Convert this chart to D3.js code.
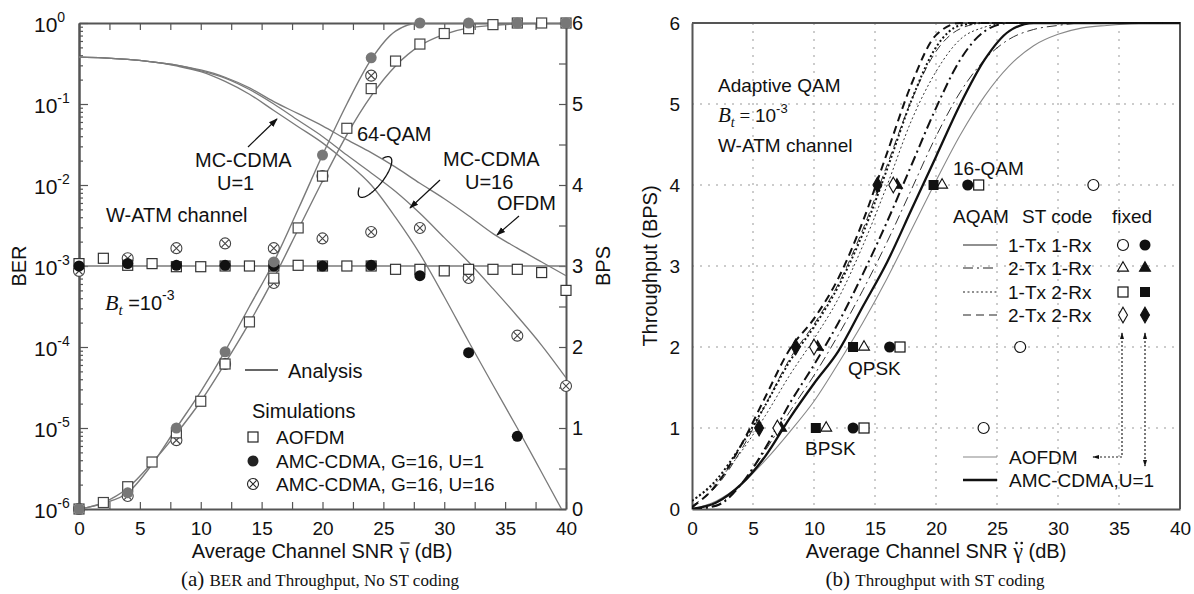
<!DOCTYPE html>
<html>
<head>
<meta charset="utf-8">
<script src="https://cdn.jsdelivr.net/npm/d3@7"></script>
<style>
  body { margin: 0; background: #fff; }
  svg { font-family: "Liberation Sans", Arial, sans-serif; }
</style>
</head>
<body>
<svg width="1194" height="594"></svg>
<script>
// ---------- data: panel (a) ----------
const snr = [0,2,4,6,8,10,12,14,16,18,20,22,24,26,28,30,32,34,36,38,40];
const snr4 = [0,4,8,12,16,20,24,28,32,36,40];

// fixed 64-QAM BER, analysis
const berMcU1  = [0.38,0.372,0.355,0.331,0.295,0.251,0.19,0.132,0.0832,0.0525,0.0331,0.019,0.01,0.00398,0.00141,4.17e-4,1.17e-4,3.39e-5,1e-5,2.82e-6,7.9e-7];
const berMcU16 = [0.38,0.372,0.355,0.331,0.302,0.257,0.209,0.151,0.1,0.063,0.0398,0.0234,0.0141,0.00832,0.00447,0.00224,0.00112,5.25e-4,2.4e-4,1.05e-4,4.17e-5];
const berOfdm  = [0.38,0.372,0.355,0.331,0.302,0.263,0.214,0.158,0.107,0.0759,0.0537,0.0363,0.0251,0.0166,0.0105,0.00676,0.00417,0.00251,0.00166,0.00112,7.6e-4];
const berTarget = 1e-3;

// adaptive throughput, analysis
const bpsMcU1  = [0,0.07,0.2,0.55,1.0,1.45,1.95,2.5,3.05,3.7,4.37,5.0,5.55,5.9,6,6,6,6,6,6,6];
const bpsAofdm = [0,0.08,0.26,0.57,0.93,1.33,1.8,2.3,2.85,3.45,4.05,4.62,5.1,5.47,5.72,5.86,5.94,5.97,5.99,6,6];

// simulations
const simBerAofdm = [1.07e-3,1.245e-3,1.02e-3,1.07e-3,0.98e-3,0.98e-3,1e-3,1e-3,1e-3,1.02e-3,1e-3,1e-3,1e-3,0.91e-3,0.91e-3,0.87e-3,0.91e-3,0.91e-3,0.91e-3,0.83e-3,0.5e-3];
const simBerMcU1  = [1e-3,1.07e-3,1.02e-3,1.02e-3,1e-3,1e-3,1.02e-3,7.6e-4,8.5e-5,7.9e-6];
const simBerMcU16 = [8.7e-4,1.245e-3,1.66e-3,1.9e-3,1.66e-3,2.19e-3,2.63e-3,2.95e-3,7.1e-4,1.38e-4,3.3e-5];
const simBpsAofdm = [0,0.08,0.275,0.58,0.94,1.33,1.79,2.31,2.85,3.47,4.11,4.7,5.19,5.53,5.74,5.87,5.93,5.98,6,6,6];
const simBpsMcU1  = [0,0.2,1.0,1.94,3.05,4.37,5.57,6,6,6,6];
const simBpsMcU16 = [0,0.16,0.85,1.79,2.79,4.11,5.35];

// ---------- data: panel (b) ----------
const tMc11   = [0,0.08,0.3,0.65,1.12,1.55,1.95,2.5,3.05,3.7,4.35,5.0,5.55,5.9,6,6,6,6,6,6,6];
const tOfdm11 = [0,0.1,0.3,0.6,0.95,1.33,1.8,2.3,2.85,3.45,4.05,4.62,5.1,5.47,5.72,5.86,5.94,5.97,5.99,6,6];
const tMc21   = [0,0.04,0.3,0.75,1.3,1.78,2.3,2.9,3.55,4.25,4.95,5.55,5.9,6,6,6,6,6,6,6,6];
const tOfdm21 = [0,0.05,0.3,0.72,1.2,1.65,2.15,2.7,3.3,3.95,4.6,5.15,5.55,5.8,5.92,5.97,6,6,6,6,6];
const tMc12   = [0.1,0.36,0.78,1.28,1.82,2.25,2.75,3.4,4.2,5.05,5.7,5.97,6,6,6,6,6,6,6,6,6];
const tOfdm12 = [0.1,0.33,0.7,1.15,1.65,2.1,2.6,3.25,4.0,4.8,5.4,5.8,5.95,6,6,6,6,6,6,6,6];
const tMc22   = [0.02,0.3,0.78,1.38,1.97,2.35,2.85,3.55,4.4,5.25,5.85,6,6,6,6,6,6,6,6,6,6];
const tOfdm22 = [0.04,0.28,0.72,1.28,1.85,2.28,2.78,3.45,4.25,5.05,5.65,5.93,6,6,6,6,6,6,6,6,6];

// fixed-mode operating points (SNR needed) for BPSK, QPSK, 16-QAM
const fixedBps   = [1, 2, 4];
const fixOfdm11  = [23.9, 26.9, 32.9];
const fixMc11    = [13.2, 16.2, 22.6];
const fixOfdm21  = [11.0, 14.1, 20.5];
const fixMc21    = [7.3, 10.3, 16.8];
const fixOfdm12  = [14.1, 17.05, 23.5];
const fixMc12    = [10.15, 13.2, 19.8];
const fixOfdm22  = [7.0, 10.0, 16.5];
const fixMc22    = [5.5, 8.5, 15.2];

// ---------- setup ----------
const svg = d3.select("svg");
const FONT = "Liberation Sans, Arial, sans-serif";
const axisCol = "#555";

const defs = svg.append("defs");
defs.append("marker").attr("id", "arr").attr("viewBox", "0 0 10 10")
    .attr("refX", 9).attr("refY", 5).attr("markerWidth", 9).attr("markerHeight", 9)
    .attr("markerUnits", "userSpaceOnUse").attr("orient", "auto-start-reverse")
  .append("path").attr("d", "M0,1.5L10,5L0,8.5z").attr("fill", "#111");
defs.append("marker").attr("id", "arrs").attr("viewBox", "0 0 10 10")
    .attr("refX", 9).attr("refY", 5).attr("markerWidth", 7).attr("markerHeight", 7)
    .attr("markerUnits", "userSpaceOnUse").attr("orient", "auto-start-reverse")
  .append("path").attr("d", "M0,2L10,5L0,8z").attr("fill", "#111");
defs.append("clipPath").attr("id", "clipL").append("rect")
    .attr("x", 79).attr("y", 23).attr("width", 487).attr("height", 486);
defs.append("clipPath").attr("id", "clipR").append("rect")
    .attr("x", 692).attr("y", 22).attr("width", 488).attr("height", 487);

function marker(g, kind, cx, cy, col) {
  col = col || "#222";
  const m = g.append("g").attr("transform", "translate(" + cx + "," + cy + ")");
  if (kind === "sq")      m.append("rect").attr("x", -5).attr("y", -5).attr("width", 10).attr("height", 10).attr("fill", "#fff").attr("stroke", col).attr("stroke-width", 1.2);
  if (kind === "sqF")     m.append("rect").attr("x", -5).attr("y", -5).attr("width", 10).attr("height", 10).attr("fill", col);
  if (kind === "dot")     m.append("circle").attr("r", 5.5).attr("fill", col);
  if (kind === "circ")    m.append("circle").attr("r", 5.5).attr("fill", "#fff").attr("stroke", col).attr("stroke-width", 1.2);
  if (kind === "otimes") {
    m.append("circle").attr("r", 5.5).attr("fill", "#fff").attr("stroke", col).attr("stroke-width", 1.1);
    m.append("path").attr("d", "M-3.6,-3.6L3.6,3.6M-3.6,3.6L3.6,-3.6").attr("stroke", col).attr("stroke-width", 1.1);
  }
  if (kind === "tri" || kind === "triF")
    m.append("path").attr("d", d3.symbol(d3.symbolTriangle, 52)())
      .attr("fill", kind === "triF" ? col : "#fff").attr("stroke", col).attr("stroke-width", 1.1);
  if (kind === "dia" || kind === "diaF")
    m.append("path").attr("d", d3.symbol(d3.symbolDiamond, 70)())
      .attr("fill", kind === "diaF" ? col : "#fff").attr("stroke", col).attr("stroke-width", 1.1);
}

function styleAxis(g, size) {
  g.attr("font-size", size).attr("font-family", FONT);
  g.select(".domain").attr("stroke", axisCol).attr("stroke-width", 2);
  g.selectAll(".tick line").attr("stroke", axisCol).attr("stroke-width", 1.2);
  g.selectAll(".tick text").attr("fill", "#111");
}

// put a bar (or two dots) over the gamma of an axis title
function accentGamma(textSel, idx, dots) {
  const e = textSel.node().getExtentOfChar(idx);
  const base = +textSel.attr("y");
  const cx = e.x + e.width / 2 + 1;
  if (dots) {
    [-2.6, 2.6].forEach(dx => svg.append("circle").attr("cx", cx + dx).attr("cy", base - 15).attr("r", 1.3).attr("fill", "#111"));
  } else {
    svg.append("line").attr("x1", cx - 4.5).attr("x2", cx + 4.5).attr("y1", base - 15).attr("y2", base - 15)
      .attr("stroke", "#111").attr("stroke-width", 1.3);
  }
}

// =================== panel (a) ===================
const xL = d3.scaleLinear().domain([0, 40]).range([79, 566]);
const yBer = d3.scaleLog().domain([1e-6, 1]).range([509, 23]);
const yBps = d3.scaleLinear().domain([0, 6]).range([509, 23]);

const ax = svg.append("g");
styleAxis(ax.append("g").attr("transform", "translate(0,509)")
  .call(d3.axisBottom(xL).tickValues(d3.range(0, 40.1, 2.5)).tickSizeInner(-7).tickSizeOuter(0)
    .tickPadding(12.5).tickFormat(d => d % 5 === 0 ? d : "")), 19);
styleAxis(ax.append("g").attr("transform", "translate(0,23)")
  .call(d3.axisTop(xL).tickValues(d3.range(0, 40.1, 2.5)).tickSizeInner(-7).tickSizeOuter(0).tickFormat("")), 19);

const decades = [1e-6, 1e-5, 1e-4, 1e-3, 1e-2, 1e-1, 1];
const minors = [];
decades.slice(0, 6).forEach(p => { for (let k = 2; k <= 9; k++) minors.push(p * k); });
styleAxis(ax.append("g").attr("transform", "translate(79,0)")
  .call(d3.axisLeft(yBer).tickValues(minors).tickSizeInner(-4).tickSizeOuter(0).tickFormat("")), 20);
const gBer = ax.append("g").attr("transform", "translate(79,0)")
  .call(d3.axisLeft(yBer).tickValues(decades).tickSizeInner(-9).tickSizeOuter(0).tickFormat(""));
styleAxis(gBer, 21);
gBer.selectAll(".tick text").each(function (d) {
  const t = d3.select(this).attr("x", -45).attr("dy", null).attr("y", 8).attr("text-anchor", "start");
  t.text("10");
  t.append("tspan").attr("dy", -10).attr("font-size", 14).text(Math.round(Math.log10(d)));
});
styleAxis(ax.append("g").attr("transform", "translate(566,0)")
  .call(d3.axisRight(yBps).tickValues(d3.range(0, 6.01, 0.5)).tickSizeInner(-7).tickSizeOuter(0)
    .tickPadding(6).tickFormat(d => Number.isInteger(d) ? d : "")), 20);

// curves
const pl = svg.append("g").attr("clip-path", "url(#clipL)");
const lineL = (xs, ys, y) => d3.line().x((d, i) => xL(xs[i])).y(d => y(d)).curve(d3.curveMonotoneX)(ys);
const grayLine = "#7a7a7a";
[berOfdm, berMcU16, berMcU1].forEach(a =>
  pl.append("path").attr("d", lineL(snr, a, yBer)).attr("fill", "none").attr("stroke", grayLine).attr("stroke-width", 1.3));
pl.append("path").attr("d", lineL([0, 40], [berTarget, berTarget], yBer)).attr("fill", "none").attr("stroke", grayLine).attr("stroke-width", 1.3);
[bpsMcU1, bpsAofdm].forEach(a =>
  pl.append("path").attr("d", lineL(snr, a, yBps)).attr("fill", "none").attr("stroke", grayLine).attr("stroke-width", 1.4));

// markers
const mk = svg.append("g");
simBerMcU16.forEach((v, i) => marker(mk, "otimes", xL(snr4[i]), yBer(v), "#444"));
simBpsMcU16.forEach((v, i) => marker(mk, "otimes", xL(snr4[i]), yBps(v), "#444"));
simBerAofdm.forEach((v, i) => marker(mk, "sq", xL(snr[i]), yBer(v), "#333"));
simBpsAofdm.forEach((v, i) => marker(mk, "sq", xL(snr[i]), yBps(v), "#444"));
simBerMcU1.forEach((v, i) => marker(mk, "dot", xL(snr4[i]), yBer(v), "#111"));
simBpsMcU1.forEach((v, i) => marker(mk, "dot", xL(snr4[i]), yBps(v), "#777"));

// annotations
const ta = svg.append("g").attr("font-size", 20).attr("fill", "#111");
ta.append("text").attr("x", 195).attr("y", 167).text("MC-CDMA");
ta.append("text").attr("x", 217).attr("y", 190).text("U=1");
ta.append("text").attr("x", 106).attr("y", 222).text("W-ATM channel");
ta.append("text").attr("x", 357).attr("y", 141).text("64-QAM");
ta.append("text").attr("x", 443).attr("y", 166).text("MC-CDMA");
ta.append("text").attr("x", 465).attr("y", 189).text("U=16");
ta.append("text").attr("x", 497).attr("y", 210).text("OFDM");
const bt = ta.append("text").attr("x", 105).attr("y", 310);
bt.append("tspan").attr("font-family", "Liberation Serif, serif").attr("font-style", "italic").attr("font-size", 22).text("B");
bt.append("tspan").attr("font-family", "Liberation Serif, serif").attr("font-style", "italic").attr("font-size", 15).attr("dy", 5).text("t");
bt.append("tspan").attr("dy", -5).text(" =10");
bt.append("tspan").attr("dy", -10).attr("font-size", 14).text("-3");

[[248, 147, 277, 119], [440, 180, 410, 208], [519, 216, 497, 235]].forEach(a =>
  svg.append("line").attr("x1", a[0]).attr("y1", a[1]).attr("x2", a[2]).attr("y2", a[3])
    .attr("stroke", "#111").attr("stroke-width", 1.2).attr("marker-end", "url(#arr)"));

// 64-QAM ellipse (open on the upper-left)
const ell = d3.range(-40, 226, 3).map(t => {
  const r = t * Math.PI / 180;
  return [25 * Math.cos(r), 8.5 * Math.sin(r)];
});
svg.append("path").attr("transform", "translate(375,177) rotate(-52)")
  .attr("d", d3.line()(ell)).attr("fill", "none").attr("stroke", "#111").attr("stroke-width", 1.3);

// legend (a)
svg.append("line").attr("x1", 245).attr("x2", 278).attr("y1", 370).attr("y2", 370).attr("stroke", "#333").attr("stroke-width", 1.3);
ta.append("text").attr("x", 288).attr("y", 378).text("Analysis");
ta.append("text").attr("x", 252).attr("y", 418).text("Simulations");
const legA = [["sq", "AOFDM", 437], ["dot", "AMC-CDMA, G=16, U=1", 461], ["otimes", "AMC-CDMA, G=16, U=16", 484]];
legA.forEach(r => {
  marker(svg, r[0], 253, r[2], "#222");
  ta.append("text").attr("x", 276).attr("y", r[2] + 7).attr("font-size", 19).text(r[1]);
});

// axis titles (a)
ta.append("text").attr("transform", "translate(26,266) rotate(-90)").attr("text-anchor", "middle").text("BER");
ta.append("text").attr("transform", "translate(610,266) rotate(-90)").attr("text-anchor", "middle").text("BPS");
const xtA = ta.append("text").attr("x", 322).attr("y", 558).attr("text-anchor", "middle");
xtA.append("tspan").text("Average Channel SNR ");
xtA.append("tspan").attr("font-family", "Liberation Serif, serif").attr("font-size", 22).text("\u03B3");
xtA.append("tspan").text(" (dB)");
accentGamma(xtA, 20, false);

// =================== panel (b) ===================
const xR = d3.scaleLinear().domain([0, 40]).range([692, 1180]);
const yR = d3.scaleLinear().domain([0, 6]).range([509, 23]);

const grid = svg.append("g").attr("stroke", "#999").attr("stroke-width", 1).attr("stroke-dasharray", "2,6");
d3.range(5, 40, 5).forEach(v => grid.append("line").attr("x1", xR(v)).attr("x2", xR(v)).attr("y1", 23).attr("y2", 509));
d3.range(1, 6, 1).forEach(v => grid.append("line").attr("y1", yR(v)).attr("y2", yR(v)).attr("x1", 692).attr("x2", 1180));

styleAxis(svg.append("g").attr("transform", "translate(0,509)")
  .call(d3.axisBottom(xR).tickValues(d3.range(0, 40.1, 5)).tickSize(0).tickPadding(12.5).tickFormat(d3.format("d"))), 19);
styleAxis(svg.append("g").attr("transform", "translate(692,0)")
  .call(d3.axisLeft(yR).tickValues(d3.range(0, 6.1, 1)).tickSize(0).tickPadding(12).tickFormat(d3.format("d"))), 19);
svg.append("path").attr("d", "M692,23H1180V509").attr("fill", "none").attr("stroke", axisCol).attr("stroke-width", 2);

const pr = svg.append("g").attr("clip-path", "url(#clipR)").attr("fill", "none");
const lineR = ys => d3.line().x((d, i) => xR(snr[i])).y(d => yR(d)).curve(d3.curveMonotoneX)(ys);
const DASHDOT = "10,4,2,4", DOT = "2,2.5", DASH = "8,5";
const curvesB = [
  [tOfdm11, "#888", 1.1, null],
  [tOfdm21, "#333", 1.0, DASHDOT],
  [tOfdm12, "#333", 1.0, DOT],
  [tOfdm22, "#333", 1.0, DASH],
  [tMc11, "#111", 2.3, null],
  [tMc21, "#111", 2.0, DASHDOT],
  [tMc12, "#111", 2.0, DOT],
  [tMc22, "#111", 2.0, DASH]
];
curvesB.forEach(c => pr.append("path").attr("d", lineR(c[0])).attr("stroke", c[1])
  .attr("stroke-width", c[2]).attr("stroke-dasharray", c[3]));

const fm = svg.append("g");
const fixedSets = [
  [fixOfdm11, "circ"], [fixMc11, "dot"], [fixOfdm21, "tri"], [fixMc21, "triF"],
  [fixOfdm12, "sq"], [fixMc12, "sqF"], [fixOfdm22, "dia"], [fixMc22, "diaF"]
];
fixedSets.forEach(s => s[0].forEach((v, i) => marker(fm, s[1], xR(v), yR(fixedBps[i]), "#111")));

const tb = svg.append("g").attr("font-size", 19).attr("fill", "#111");
tb.append("text").attr("x", 718).attr("y", 92).text("Adaptive QAM");
const bt2 = tb.append("text").attr("x", 718).attr("y", 122);
bt2.append("tspan").attr("font-family", "Liberation Serif, serif").attr("font-style", "italic").attr("font-size", 21).text("B");
bt2.append("tspan").attr("font-family", "Liberation Serif, serif").attr("font-style", "italic").attr("font-size", 14).attr("dy", 5).text("t");
bt2.append("tspan").attr("dy", -5).attr("font-family", "Liberation Serif, serif").text(" = ");
bt2.append("tspan").text("10");
bt2.append("tspan").attr("dy", -9).attr("font-size", 13).text("-3");
tb.append("text").attr("x", 718).attr("y", 152).text("W-ATM channel");
tb.append("text").attr("x", 953).attr("y", 175).text("16-QAM");
tb.append("text").attr("x", 848).attr("y", 375).text("QPSK");
tb.append("text").attr("x", 805).attr("y", 455).text("BPSK");

// legend (b)
tb.append("text").attr("x", 953).attr("y", 223).text("AQAM");
tb.append("text").attr("x", 1022).attr("y", 223).text("ST code");
tb.append("text").attr("x", 1112).attr("y", 223).text("fixed");
const legB = [
  ["1-Tx 1-Rx", null, "circ", "dot", 245],
  ["2-Tx 1-Rx", DASHDOT, "tri", "triF", 268],
  ["1-Tx 2-Rx", DOT, "sq", "sqF", 292],
  ["2-Tx 2-Rx", DASH, "dia", "diaF", 315]
];
legB.forEach(r => {
  svg.append("line").attr("x1", 963).attr("x2", 997).attr("y1", r[4]).attr("y2", r[4])
    .attr("stroke", "#222").attr("stroke-width", 1.2).attr("stroke-dasharray", r[1]);
  tb.append("text").attr("x", 1008).attr("y", r[4] + 7).text(r[0]);
  marker(svg, r[2], 1123, r[4], "#111");
  marker(svg, r[3], 1145, r[4], "#111");
});
svg.append("line").attr("x1", 963).attr("x2", 997).attr("y1", 457).attr("y2", 457).attr("stroke", "#888").attr("stroke-width", 1.1);
tb.append("text").attr("x", 1009).attr("y", 464).text("AOFDM");
svg.append("line").attr("x1", 963).attr("x2", 997).attr("y1", 480).attr("y2", 480).attr("stroke", "#111").attr("stroke-width", 2.5);
tb.append("text").attr("x", 1009).attr("y", 487).text("AMC-CDMA,U=1");
svg.append("path").attr("d", "M1122,333V457H1093").attr("fill", "none").attr("stroke", "#222")
  .attr("stroke-width", 1.2).attr("stroke-dasharray", "2,2")
  .attr("marker-start", "url(#arrs)").attr("marker-end", "url(#arrs)");
svg.append("path").attr("d", "M1145,333V466").attr("fill", "none").attr("stroke", "#222")
  .attr("stroke-width", 1.2).attr("stroke-dasharray", "2,2")
  .attr("marker-start", "url(#arrs)").attr("marker-end", "url(#arrs)");

// axis titles (b)
tb.append("text").attr("font-size", 20).attr("transform", "translate(657,266) rotate(-90)").attr("text-anchor", "middle").text("Throughput (BPS)");
const xtB = tb.append("text").attr("font-size", 20).attr("x", 936).attr("y", 558).attr("text-anchor", "middle");
xtB.append("tspan").text("Average Channel SNR ");
xtB.append("tspan").attr("font-family", "Liberation Serif, serif").attr("font-size", 22).text("\u03B3");
xtB.append("tspan").text(" (dB)");
accentGamma(xtB, 20, true);

// captions
const cap = svg.append("g").attr("font-family", "Liberation Serif, serif").attr("fill", "#111").attr("text-anchor", "middle");
const capA = cap.append("text").attr("x", 320).attr("y", 586).attr("font-size", 17);
capA.append("tspan").attr("font-size", 21).text("(a) ");
capA.append("tspan").text("BER and Throughput, No ST coding");
const capB = cap.append("text").attr("x", 935).attr("y", 586).attr("font-size", 17);
capB.append("tspan").attr("font-size", 21).text("(b) ");
capB.append("tspan").text("Throughput with ST coding");
</script>
</body>
</html>
